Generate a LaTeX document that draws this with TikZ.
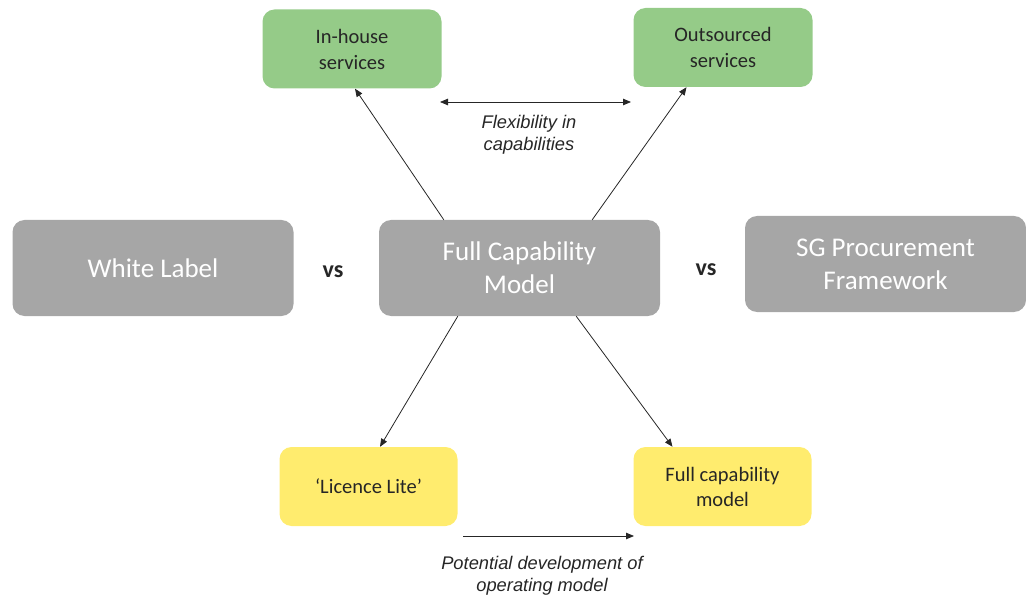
\documentclass[tikz,border=0pt]{standalone}
\usepackage{fontspec}
\setmainfont{Carlito}
\newfontfamily\arialfont{Liberation Sans}
\usetikzlibrary{arrows.meta}
\definecolor{boxgray}{HTML}{A6A6A6}
\definecolor{boxgreen}{HTML}{95CB88}
\definecolor{boxyellow}{HTML}{FFEC6E}
\definecolor{ink}{HTML}{262626}
\begin{document}
\begin{tikzpicture}[x=1pt,y=-1pt,
  box/.style={rounded corners=12pt, inner sep=0pt, align=center},
  graybox/.style={box, fill=boxgray, text=white, minimum width=281pt, minimum height=96pt, font=\fontsize{27}{33}\selectfont},
  greenbox/.style={box, fill=boxgreen, text=ink, minimum width=179pt, minimum height=79pt, font=\fontsize{20.5}{26}\selectfont},
  yellowbox/.style={box, fill=boxyellow, text=ink, minimum width=178pt, minimum height=79pt, font=\fontsize{20.5}{25}\selectfont},
  conn/.style={-{Triangle[length=8pt,width=6.5pt]}, line width=0.8pt, draw=ink},
  dconn/.style={{Triangle[length=8pt,width=6.5pt]}-{Triangle[length=8pt,width=6.5pt]}, line width=0.8pt, draw=ink},
  lbl/.style={font=\arialfont\itshape\fontsize{18.3}{22}\selectfont, align=center, text=ink, inner sep=0pt},
  vslbl/.style={font=\bfseries\fontsize{24}{28}\selectfont, text=ink, inner sep=0pt}]
\useasboundingbox (0,0) rectangle (1026,596);
\node[greenbox, text depth=0pt] (inh) at (352,49) {In-house\\services};
\node[greenbox] (outs) at (723,47.5) {Outsourced\\services};
\node[graybox] (wl) at (153,268) {White Label};
\node[graybox] (fcm) at (519.5,268) {Full Capability\\Model};
\node[graybox] (sg) at (885.5,264) {SG Procurement\\Framework};
\node[yellowbox] (ll) at (368.5,486.5) {`Licence Lite'};
\node[yellowbox] (fcy) at (722.5,486.5) {Full capability\\model};
\node[vslbl] (vs1) at (333,272) {vs};
\node[vslbl] (vs2) at (706,270) {vs};
\node[lbl] (flex) at (529,135) {Flexibility in\\capabilities};
\node[lbl] (pot) at (542,576) {Potential development of\\operating model};
\coordinate (fa) at (440,102);
\coordinate (fb) at (631,102);
\coordinate (pa) at (463,536);
\coordinate (pb) at (634,536);
\draw[conn] ([xshift=65pt]fcm.north west) -- ([xshift=3pt]inh.south);
\draw[conn] ([xshift=-68pt]fcm.north east) -- ([xshift=-36.5pt]outs.south);
\draw[conn] ([xshift=79pt]fcm.south west) -- ([xshift=11.5pt]ll.north);
\draw[conn] ([xshift=-84pt]fcm.south east) -- ([xshift=-50pt]fcy.north);
\draw[dconn] (fa) -- (fb);
\draw[conn] (pa) -- (pb);
\end{tikzpicture}
\end{document}
